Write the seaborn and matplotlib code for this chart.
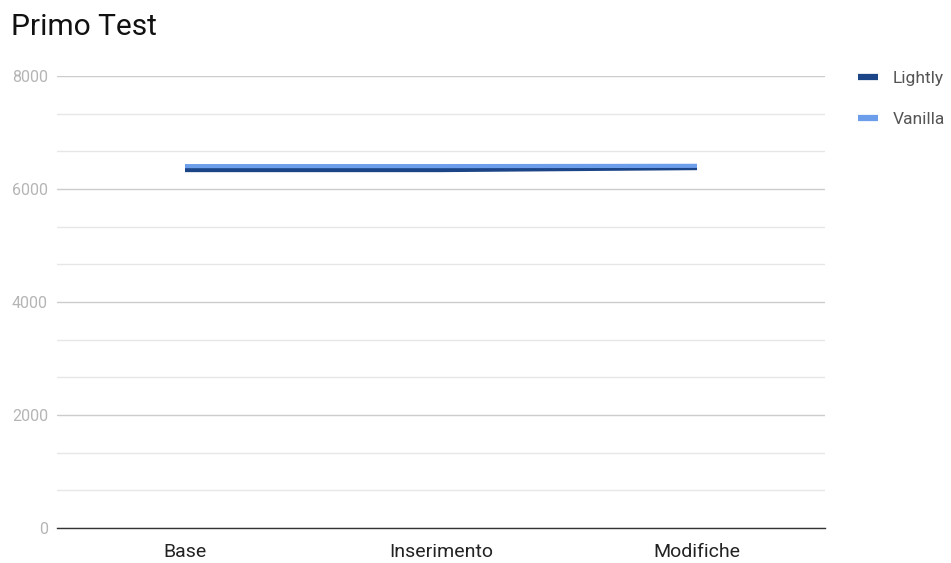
import numpy as np
import pandas as pd
import seaborn as sns
import matplotlib
matplotlib.use("Agg")
import matplotlib.pyplot as plt
from matplotlib.ticker import MultipleLocator
from matplotlib.lines import Line2D

# Data
categories = ["Base", "Inserimento", "Modifiche"]
lightly = [6335, 6335, 6370]
vanilla = [6405, 6405, 6410]
series_names = ["Lightly", "Vanilla"]
series_colors = ["#1c4587", "#6d9eeb"]
y_ticks = [0, 2000, 4000, 6000, 8000]

df = pd.DataFrame({
    "categoria": categories * 2,
    "x": list(range(len(categories))) * 2,
    "valore": lightly + vanilla,
    "serie": ["Lightly"] * len(categories) + ["Vanilla"] * len(categories),
})

sns.set_theme(style="white")
plt.rcParams["font.family"] = ["Roboto", "DejaVu Sans"]

W, H = 951, 563
fig = plt.figure(figsize=(W / 100, H / 100), dpi=100)
ax = fig.add_axes([57 / W, (H - 528) / H, (825 - 57) / W, (528 - 76) / H])

sns.lineplot(data=df, x="x", y="valore", hue="serie", hue_order=series_names,
             palette=series_colors, linewidth=3.0, ax=ax, legend=False,
             solid_capstyle="butt", zorder=3)

ax.set_xlim(-0.5, len(categories) - 0.5)
ax.set_ylim(0, 8000)
ax.set_xticks(range(len(categories)))
ax.set_xticklabels(categories, fontsize=14, color="#222222")
ax.set_yticks(y_ticks)
ax.set_yticklabels([str(t) for t in y_ticks], fontsize=11.5, color="#b5b5b5")
ax.yaxis.set_minor_locator(MultipleLocator(2000 / 3))
ax.tick_params(axis="both", length=0)
ax.tick_params(axis="y", pad=6.5)
ax.tick_params(axis="x", pad=10.5)
ax.set_xlabel("")
ax.set_ylabel("")

ax.grid(axis="y", which="major", color="#cccccc", linewidth=1.0, zorder=0)
ax.grid(axis="y", which="minor", color="#e6e6e6", linewidth=1.0, zorder=0)
ax.grid(axis="x", visible=False)
for s in ["top", "right", "left"]:
    ax.spines[s].set_visible(False)
ax.spines["bottom"].set_color("#333333")
ax.spines["bottom"].set_linewidth(1.0)

fig.text(11 / W, 1 - 27 / H, "Primo Test", fontsize=21.5, color="#111111",
         ha="left", va="center")

handles = [Line2D([0], [0], color=c, linewidth=4.5, solid_capstyle="butt")
           for c in series_colors]
fig.legend(handles, series_names, loc="upper left",
           bbox_to_anchor=(855 / W, 1 - 67 / H), frameon=False,
           fontsize=12.5, labelcolor="#555555", handlelength=1.15,
           handletextpad=0.8, labelspacing=1.5, borderaxespad=0,
           borderpad=0.2)

fig.savefig("out.png", dpi=100)
